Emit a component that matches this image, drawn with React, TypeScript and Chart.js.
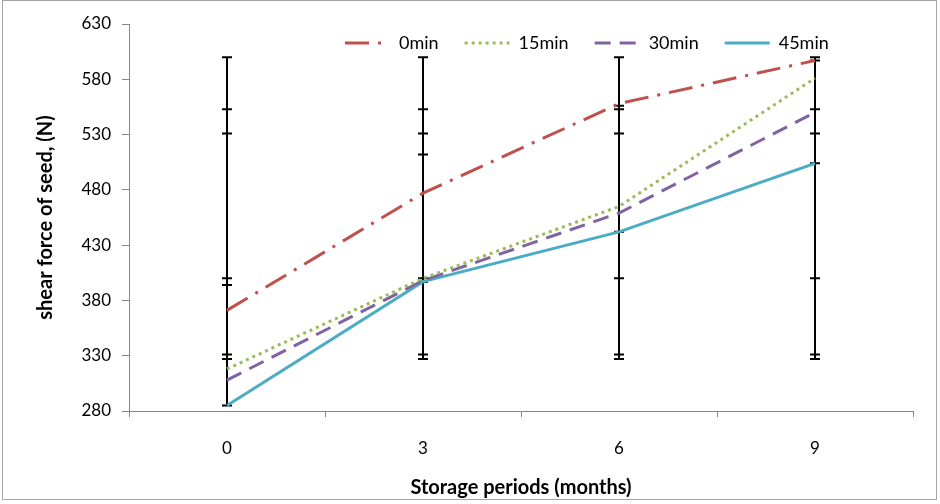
import React, { useEffect, useRef } from 'react';
import { Chart, registerables } from 'chart.js';

Chart.register(...registerables);

// Storage periods (months) on the x axis
const periods = ['0', '3', '6', '9'];
const seriesNames = ['0min', '15min', '30min', '45min'];

// Shear force of seed (N) per soaking time
const force0 = [371, 477, 558, 597];
const force15 = [318, 400, 465, 581];
const force30 = [308, 398, 459, 550];
const force45 = [285, 397, 442, 504];

// Error bar ends (low / high) for each series at each period
const err0Low = [400, 400, 400, 400];
const err0High = [600, 600, 600, 600];
const err15Low = [331, 331, 331, 331];
const err15High = [553, 553, 553, 553];
const err30Low = [327, 327, 327, 327];
const err30High = [531, 531, 531, 531];
const err45Low = [285, 397, 442, 504];
const err45High = [394, 512, 556, 597];

// y axis range and step
const yMin = 280;
const yMax = 630;
const yStep = 50;

const FONT = 'Lato, "Open Sans", sans-serif';

const errLows = [err0Low, err15Low, err30Low, err45Low];
const errHighs = [err0High, err15High, err30High, err45High];

const errorBarsPlugin = {
  id: 'errorBars',
  beforeDatasetsDraw(chart: any) {
    const { ctx } = chart;
    const y = chart.scales.y;
    ctx.save();
    ctx.strokeStyle = '#000000';
    ctx.lineWidth = 2;
    chart.data.datasets.forEach((_ds: any, i: number) => {
      const meta = chart.getDatasetMeta(i);
      meta.data.forEach((pt: any, j: number) => {
        const x = Math.round(pt.x);
        const yl = y.getPixelForValue(errLows[i][j]);
        const yh = y.getPixelForValue(errHighs[i][j]);
        ctx.beginPath();
        ctx.moveTo(x, yl);
        ctx.lineTo(x, yh);
        ctx.moveTo(x - 5, yl);
        ctx.lineTo(x + 5, yl);
        ctx.moveTo(x - 5, yh);
        ctx.lineTo(x + 5, yh);
        ctx.stroke();
      });
    });
    ctx.restore();
  },
};

const legendPlugin = {
  id: 'inlineLegend',
  afterDatasetsDraw(chart: any) {
    const { ctx } = chart;
    let x = 345;
    const y = 43;
    ctx.save();
    ctx.font = `18px ${FONT}`;
    ctx.textBaseline = 'middle';
    ctx.fillStyle = '#000';
    chart.data.datasets.forEach((ds: any) => {
      ctx.save();
      ctx.strokeStyle = ds.borderColor;
      ctx.lineWidth = ds.borderWidth;
      ctx.lineCap = ds.borderCapStyle || 'butt';
      ctx.setLineDash(ds.borderDash || []);
      ctx.beginPath();
      ctx.moveTo(x, y);
      ctx.lineTo(x + 45, y);
      ctx.stroke();
      ctx.restore();
      ctx.fillText(ds.label, x + 54, y);
      x += 54 + ctx.measureText(ds.label).width + 26;
    });
    ctx.restore();
  },
};

const framePlugin = {
  id: 'frame',
  afterDraw(chart: any) {
    const { ctx } = chart;
    ctx.save();
    ctx.strokeStyle = '#a6a6a6';
    ctx.lineWidth = 1;
    ctx.strokeRect(2.5, 0.5, 934, 499);
    ctx.restore();
  },
};

export default function App() {
  const canvasRef = useRef<HTMLCanvasElement | null>(null);

  useEffect(() => {
    document.body.style.margin = '0';
    const canvas = canvasRef.current;
    if (!canvas) return;
    const chart = new Chart(canvas, {
      type: 'line',
      data: {
        labels: periods,
        datasets: [
          {
            label: seriesNames[0],
            data: force0,
            borderColor: '#c0504d',
            borderWidth: 3,
            borderDash: [24, 9, 3, 9],
            pointRadius: 0,
            tension: 0,
          },
          {
            label: seriesNames[1],
            data: force15,
            borderColor: '#9bbb59',
            borderWidth: 3,
            borderDash: [3, 4],
            pointRadius: 0,
            tension: 0,
          },
          {
            label: seriesNames[2],
            data: force30,
            borderColor: '#8064a2',
            borderWidth: 3,
            borderDash: [16, 9],
            pointRadius: 0,
            tension: 0,
          },
          {
            label: seriesNames[3],
            data: force45,
            borderColor: '#4bacc6',
            borderWidth: 3,
            pointRadius: 0,
            tension: 0,
          },
        ],
      },
      options: {
        responsive: false,
        animation: false,
        layout: { padding: { left: 28, right: 27, top: 24, bottom: 2 } },
        plugins: {
          legend: { display: false },
          tooltip: { enabled: false },
        },
        scales: {
          x: {
            type: 'category',
            offset: true,
            grid: {
              display: true,
              drawOnChartArea: false,
              offset: true,
              tickLength: 6,
              color: '#868686',
            },
            border: { display: true, color: '#868686', width: 1 },
            ticks: { padding: 21, color: '#000', font: { family: FONT, size: 17 } },
            title: {
              display: true,
              text: 'Storage periods (months)',
              color: '#000',
              font: { family: FONT, size: 20, weight: 'bold' },
              padding: { top: 0, bottom: 2 },
            },
            afterFit(scale: any) {
              scale.height = 91;
            },
          },
          y: {
            min: yMin,
            max: yMax,
            ticks: {
              stepSize: yStep,
              padding: 11,
              color: '#000',
              font: { family: FONT, size: 17 },
            },
            grid: {
              display: true,
              drawOnChartArea: false,
              tickLength: 7,
              color: '#868686',
            },
            border: { display: true, color: '#868686', width: 1 },
            title: {
              display: true,
              text: 'shear force of seed, (N)',
              color: '#000',
              font: { family: FONT, size: 20, weight: 'bold' },
              padding: { top: 6, bottom: 0 },
            },
            afterFit(scale: any) {
              scale.width = 101;
            },
          },
        },
      },
      plugins: [errorBarsPlugin, legendPlugin, framePlugin],
    });
    return () => chart.destroy();
  }, []);

  return (
    <div style={{ width: 940, height: 504 }}>
      <canvas ref={canvasRef} width={940} height={504} />
    </div>
  );
}
